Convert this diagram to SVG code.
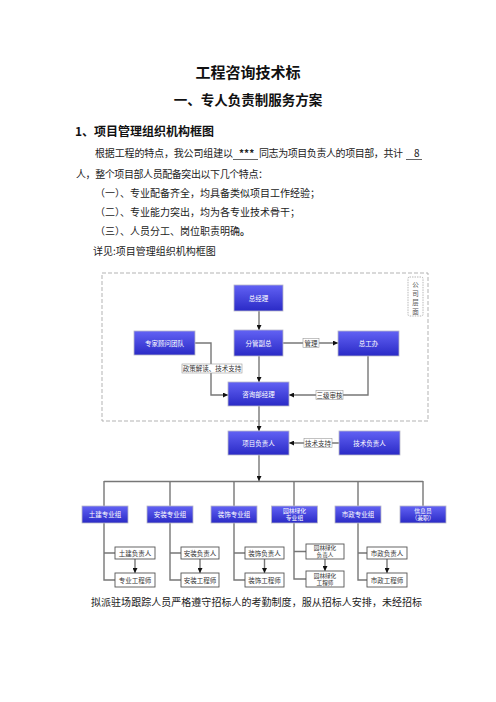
<svg xmlns="http://www.w3.org/2000/svg" width="496" height="702" viewBox="0 0 496 702">
<defs>
<linearGradient id="blue" x1="0" y1="0" x2="0" y2="1">
<stop offset="0" stop-color="#6262f4"/>
<stop offset="1" stop-color="#2a2ac6"/>
</linearGradient>
<marker id="ah" viewBox="0 0 6 6" refX="6" refY="3" markerWidth="5" markerHeight="5" orient="auto" markerUnits="userSpaceOnUse">
<path d="M0,0 L6,3 L0,6 z" fill="#111"/>
</marker>
</defs>
<style>
text{font-family:"Noto Sans CJK SC","Noto Sans",sans-serif}
.doc{font-size:10px;fill:#222}
.b{fill:url(#blue);stroke:#b8b8c8;stroke-width:0.8}
.bt{font-size:6.5px;fill:#fff;text-anchor:middle}
.bt2{font-size:5.8px;fill:#fff;text-anchor:middle}
.s{fill:#fff;stroke:#555;stroke-width:0.9}
.st{font-size:6.5px;fill:#333;text-anchor:middle}
.st2{font-size:5.6px;fill:#333;text-anchor:middle}
.ln{fill:none;stroke:#777;stroke-width:1.4}
.arr{marker-end:url(#ah)}
.lb{fill:#fff;stroke:#999;stroke-width:0.6}
.lt{font-size:6.5px;fill:#333;text-anchor:middle}
</style>
<rect width="496" height="702" fill="#fff"/>
<g id="document-text">
<text x="248" y="78" font-size="15" font-weight="bold" fill="#111" text-anchor="middle">工程咨询技术标</text>
<text x="248" y="105" font-size="13.5" font-weight="bold" fill="#111" text-anchor="middle">一、专人负责制服务方案</text>
<text x="75" y="136" font-size="12" font-weight="bold" fill="#111">1、项目管理组织机构框图</text>
<text class="doc" x="95" y="157" textLength="138" lengthAdjust="spacing">根据工程的特点，我公司组建以</text>
<text class="doc" x="239" y="157" font-size="7" font-weight="bold">***</text>
<line x1="233" y1="159.5" x2="258" y2="159.5" stroke="#222" stroke-width="0.7"/>
<text class="doc" x="259" y="157" textLength="144" lengthAdjust="spacing">同志为项目负责人的项目部，共计</text>
<text class="doc" x="414" y="157">8</text>
<line x1="406" y1="159.5" x2="422" y2="159.5" stroke="#222" stroke-width="0.7"/>
<text class="doc" x="76" y="178" textLength="192" lengthAdjust="spacing">人，整个项目部人员配备突出以下几个特点：</text>
<text class="doc" x="95" y="197">（一）、专业配备齐全，均具备类似项目工作经验；</text>
<text class="doc" x="95" y="216">（二）、专业能力突出，均为各专业技术骨干；</text>
<text class="doc" x="95" y="235">（三）、人员分工、岗位职责明确<tspan font-weight="bold">。</tspan></text>
<text class="doc" x="93" y="255">详见:项目管理组织机构框图</text>
<text class="doc" x="91" y="606" textLength="331" lengthAdjust="spacing">拟派驻场跟踪人员严格遵守招标人的考勤制度，服从招标人安排，未经招标</text>
</g>
<g id="company-level">
<rect x="102" y="273" width="326" height="148" fill="none" stroke="#aaa" stroke-width="0.9" stroke-dasharray="4,2"/>
<rect x="408" y="277" width="15" height="39" rx="1.5" fill="#fff" stroke="#999" stroke-width="0.7" stroke-dasharray="1.5,1"/>
<text x="415.5" y="287" font-size="6.5" fill="#555" text-anchor="middle">公</text>
<text x="415.5" y="296" font-size="6.5" fill="#555" text-anchor="middle">司</text>
<text x="415.5" y="305" font-size="6.5" fill="#555" text-anchor="middle">层</text>
<text x="415.5" y="314" font-size="6.5" fill="#555" text-anchor="middle">面</text>
</g>
<g id="connectors">
<path class="ln arr" d="M259,311 V330"/>
<path class="ln arr" d="M259,356 V382"/>
<path class="ln arr" d="M283,343 H338"/>
<path class="ln arr" d="M195,343 H211 V395 H228"/>
<path class="ln arr" d="M368,356 V395 H289"/>
<path class="ln arr" d="M259,406 V431"/>
<path class="ln arr" d="M339,443 H289"/>
<path class="ln arr" d="M259,455 V481"/>
<path class="ln" d="M104,481.5 H423 M104,481 V506 M170,481 V506 M234,481 V506 M294,481 V506 M358,481 V506 M423,481 V506"/>
<path class="ln" d="M104,523 V580 H115 M104,553 H115"/>
<path class="ln" d="M170,523 V580 H181 M170,553 H181"/>
<path class="ln" d="M234,523 V580 H245 M234,553 H245"/>
<path class="ln" d="M294,523 V579 H306 M294,551.5 H306"/>
<path class="ln" d="M358,523 V580 H367 M358,553 H367"/>
<path class="ln arr" d="M135,559 V573"/>
<path class="ln arr" d="M200,559 V573"/>
<path class="ln arr" d="M264.5,559 V573"/>
<path class="ln arr" d="M325,559 V571"/>
<path class="ln arr" d="M387,559 V573"/>
<rect class="lb" x="182" y="364" width="60" height="9"/>
<text class="lt" x="212" y="371">政策解读、技术支持</text>
<rect class="lb" x="303" y="338.5" width="16" height="9"/>
<text class="lt" x="311" y="345.5">管理</text>
<rect class="lb" x="316" y="390.5" width="27" height="9"/>
<text class="lt" x="329.5" y="397.5">三级审核</text>
<rect class="lb" x="304" y="438.5" width="28" height="9"/>
<text class="lt" x="318" y="445.5">技术支持</text>
</g>
<g id="n-zongjingli"><rect class="b" x="234" y="285" width="49" height="26"/><text class="bt" x="258.5" y="300.5">总经理</text></g>
<g id="n-fenguanfuzong"><rect class="b" x="234" y="330" width="49" height="26"/><text class="bt" x="258.5" y="345.5">分管副总</text></g>
<g id="n-zhuanjia"><rect class="b" x="134" y="331" width="61" height="24"/><text class="bt" x="164.5" y="345.5">专家顾问团队</text></g>
<g id="n-zonggongban"><rect class="b" x="338" y="331" width="61" height="25"/><text class="bt" x="368.5" y="346">总工办</text></g>
<g id="n-zixunbu"><rect class="b" x="228" y="382" width="61" height="24"/><text class="bt" x="258.5" y="396.5">咨询部经理</text></g>
<g id="n-xiangmu"><rect class="b" x="228" y="431" width="61" height="24"/><text class="bt" x="258.5" y="445.5">项目负责人</text></g>
<g id="n-jishu"><rect class="b" x="339" y="431" width="61" height="24"/><text class="bt" x="369.5" y="445.5">技术负责人</text></g>
<g id="g-tujian"><rect class="b" x="82" y="506" width="46" height="17"/><text class="bt" x="105" y="517">土建专业组</text></g>
<g id="g-anzhuang"><rect class="b" x="147" y="506" width="46" height="17"/><text class="bt" x="170" y="517">安装专业组</text></g>
<g id="g-zhuangshi"><rect class="b" x="211" y="506" width="46" height="17"/><text class="bt" x="234" y="517">装饰专业组</text></g>
<g id="g-yuanlin"><rect class="b" x="271.5" y="506" width="46" height="17"/><text class="bt2" x="294.5" y="512.5">园林绿化</text><text class="bt2" x="294.5" y="520">专业组</text></g>
<g id="g-shizheng"><rect class="b" x="335" y="506" width="46" height="17"/><text class="bt" x="358" y="517">市政专业组</text></g>
<g id="g-xinxi"><rect class="b" x="400" y="506" width="46" height="17"/><text class="bt2" x="423" y="512.5">信息员</text><text class="bt2" x="423" y="520">（兼职）</text></g>
<g id="s-tujian-fz"><rect class="s" x="115" y="547" width="40" height="12"/><text class="st" x="135" y="555.5">土建负责人</text></g>
<g id="s-tujian-gc"><rect class="s" x="115" y="573" width="40" height="14"/><text class="st" x="135" y="582.5">专业工程师</text></g>
<g id="s-anzhuang-fz"><rect class="s" x="181" y="547" width="38" height="12"/><text class="st" x="200" y="555.5">安装负责人</text></g>
<g id="s-anzhuang-gc"><rect class="s" x="181" y="573" width="38" height="14"/><text class="st" x="200" y="582.5">安装工程师</text></g>
<g id="s-zhuangshi-fz"><rect class="s" x="245" y="547" width="39" height="12"/><text class="st" x="264.5" y="555.5">装饰负责人</text></g>
<g id="s-zhuangshi-gc"><rect class="s" x="245" y="573" width="39" height="14"/><text class="st" x="264.5" y="582.5">装饰工程师</text></g>
<g id="s-yuanlin-fz"><rect class="s" x="306" y="544" width="38" height="15"/><text class="st2" x="325" y="550">园林绿化</text><text class="st2" x="325" y="557">负责人</text></g>
<g id="s-yuanlin-gc"><rect class="s" x="306" y="571" width="38" height="16"/><text class="st2" x="325" y="577.5">园林绿化</text><text class="st2" x="325" y="584.8">工程师</text></g>
<g id="s-shizheng-fz"><rect class="s" x="367" y="547" width="40" height="12"/><text class="st" x="387" y="555.5">市政负责人</text></g>
<g id="s-shizheng-gc"><rect class="s" x="367" y="573" width="40" height="14"/><text class="st" x="387" y="582.5">市政工程师</text></g>
</svg>
